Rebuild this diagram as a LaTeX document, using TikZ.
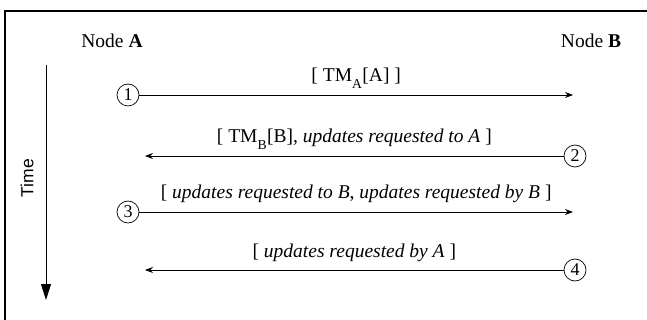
\documentclass[tikz,border=0pt]{standalone}
\usepackage{fontspec}
\setmainfont{Liberation Serif}
\setsansfont{Liberation Sans}
\usetikzlibrary{arrows.meta}
\newcommand{\lowsub}[1]{\textsubscript{\raisebox{-0.55ex}{#1}}}
\begin{document}
\begin{tikzpicture}[x=1pt,y=-1pt,
  every node/.style={font=\fontsize{19.5}{22}\selectfont},
  numc/.style={draw,circle,line width=0.7pt,minimum size=22pt,inner sep=0pt,font=\fontsize{18}{20}\selectfont},
  msg/.style={line width=0.8pt,-{Stealth[length=8pt,width=6pt]}},
  lbl/.style={anchor=base,midway,yshift=13pt},
  frame/.style={line width=1.1pt}]
\useasboundingbox (0,0) rectangle (647,320);
\clip (0,0) rectangle (647,320);
\draw[frame] (5,11) rectangle (655,330);
\node (nA) at (112,41) {Node \textbf{A}};
\node (nB) at (591,41) {Node \textbf{B}};
% time axis
\coordinate (t0) at (46,65);
\coordinate (t1) at (46,300);
\draw[line width=0.9pt,-{Triangle[length=16pt,width=10pt]}] (t0) -- (t1);
\node[font=\sffamily\fontsize{17.5}{20}\selectfont,rotate=90] (time) at (27,178) {Time};
% rows
\node[numc] (c1) at (128,95) {1};
\node[numc] (c2) at (575,156) {2};
\node[numc] (c3) at (128,212) {3};
\node[numc] (c4) at (575,270) {4};
\coordinate (e1) at (573,95);
\coordinate (e2) at (145,156);
\coordinate (e3) at (573,212);
\coordinate (e4) at (145,270);
\draw[msg] (c1) -- (e1) node[lbl] (l1) {[ TM\lowsub{A}[A] ]};
\draw[msg] (c2) -- (e2) node[lbl] (l2) {[ TM\lowsub{B}[B], \textit{updates requested to A} ]};
\draw[msg] (c3) -- (e3) node[lbl] (l3) {[ \textit{updates requested to B}, \textit{updates requested by B} ]};
\draw[msg] (c4) -- (e4) node[lbl] (l4) {[ \textit{updates requested by A} ]};
\end{tikzpicture}
\end{document}
